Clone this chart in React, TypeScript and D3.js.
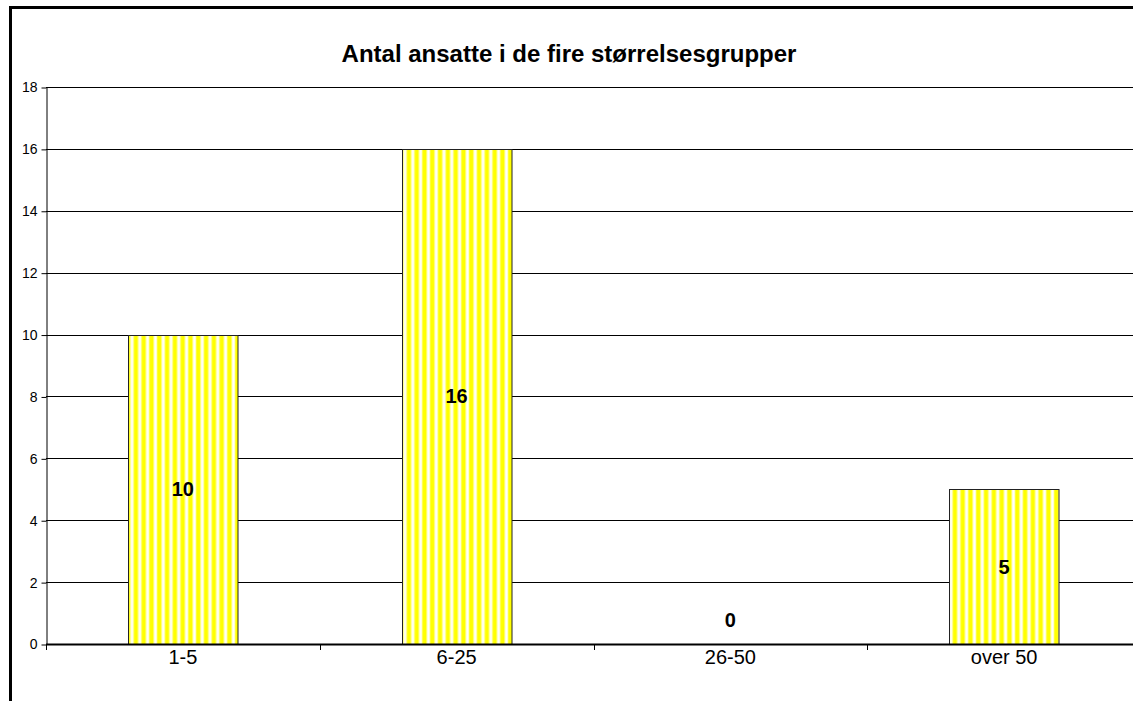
import React, { useEffect, useRef } from "react";
import { select, scaleBand, scaleLinear, axisLeft, range } from "d3";

// chart data
const categories = ["1-5", "6-25", "26-50", "over 50"];
const values = [10, 16, 0, 5];
const yTicks = range(0, 20, 2);
const title = "Antal ansatte i de fire størrelsesgrupper";

const W = 1133;
const H = 701;
const FONT = "Liberation Sans, Arial, sans-serif";

function App() {
  const svgRef = useRef<SVGSVGElement>(null);

  useEffect(() => {
    const svg = select(svgRef.current);
    svg.selectAll("*").remove();

    const left = 46;
    const top = 87;
    const bottom = 644;
    const right = 1141;

    // stripe pattern for the bars
    const pat = svg
      .append("defs")
      .append("pattern")
      .attr("id", "stripes")
      .attr("patternUnits", "userSpaceOnUse")
      .attr("width", 7.8)
      .attr("height", 10);
    pat.append("rect").attr("width", 7.8).attr("height", 10).attr("fill", "#ffffff");
    pat.append("rect").attr("x", 1).attr("width", 4.6).attr("height", 10).attr("fill", "#ffff00");
    pat.append("rect").attr("x", 0.5).attr("width", 0.8).attr("height", 10).attr("fill", "#ffff99");
    pat.append("rect").attr("x", 5.4).attr("width", 0.8).attr("height", 10).attr("fill", "#ffff99");

    const x = scaleBand<string>()
      .domain(categories)
      .range([left, right])
      .paddingInner(0.6)
      .paddingOuter(0.3);
    const band = scaleBand<string>().domain(categories).range([left, right]);

    const y = scaleLinear().domain([0, 18]).range([bottom, top]);

    // outer frame
    svg
      .append("rect")
      .attr("x", 10.5)
      .attr("y", 7.5)
      .attr("width", W + 20)
      .attr("height", H + 20)
      .attr("fill", "none")
      .attr("stroke", "#000")
      .attr("stroke-width", 3);

    // title
    svg
      .append("text")
      .attr("x", 569)
      .attr("y", 62)
      .attr("text-anchor", "middle")
      .attr("font-family", FONT)
      .attr("font-weight", "bold")
      .attr("font-size", 24)
      .text(title);

    // gridlines
    svg
      .append("g")
      .selectAll("line")
      .data(yTicks.filter((d) => d > 0))
      .join("line")
      .attr("x1", left)
      .attr("x2", right)
      .attr("y1", (d) => Math.round(y(d)) + 0.5)
      .attr("y2", (d) => Math.round(y(d)) + 0.5)
      .attr("stroke", "#000")
      .attr("stroke-width", 1);

    // y axis
    const yAxis = svg
      .append("g")
      .attr("transform", `translate(${left + 0.5},0.5)`)
      .call(axisLeft(y).tickValues(yTicks).tickSize(5).tickPadding(4).tickSizeOuter(0));
    yAxis.select(".domain").attr("stroke", "#000");
    yAxis
      .selectAll("text")
      .attr("font-family", FONT)
      .attr("font-size", 14)
      .attr("fill", "#000");

    // bars
    svg
      .append("g")
      .selectAll("rect")
      .data(values)
      .join("rect")
      .attr("x", (d, i) => Math.round(x(categories[i])!) + 0.5)
      .attr("y", (d) => Math.round(y(d)) + 0.5)
      .attr("width", x.bandwidth())
      .attr("height", (d) => bottom - Math.round(y(d)))
      .attr("fill", "url(#stripes)")
      .attr("stroke", (d) => (d > 0 ? "#222" : "none"))
      .attr("stroke-width", 1);

    // x axis line and ticks
    svg
      .append("line")
      .attr("x1", left)
      .attr("x2", right)
      .attr("y1", bottom + 0.5)
      .attr("y2", bottom + 0.5)
      .attr("stroke", "#000")
      .attr("stroke-width", 2);
    svg
      .append("g")
      .selectAll("line")
      .data(categories)
      .join("line")
      .attr("x1", (c) => Math.round(band(c)!) + 0.5)
      .attr("x2", (c) => Math.round(band(c)!) + 0.5)
      .attr("y1", bottom)
      .attr("y2", bottom + 6)
      .attr("stroke", "#000");

    // category labels
    svg
      .append("g")
      .selectAll("text")
      .data(categories)
      .join("text")
      .attr("x", (c) => band(c)! + band.bandwidth() / 2)
      .attr("y", 664)
      .attr("text-anchor", "middle")
      .attr("font-family", FONT)
      .attr("font-size", 20)
      .text((c) => c);

    // value labels
    svg
      .append("g")
      .selectAll("text")
      .data(values)
      .join("text")
      .attr("x", (d, i) => x(categories[i])! + x.bandwidth() / 2)
      .attr("y", (d) => Math.min(y(d / 2), bottom - 24) + 7)
      .attr("text-anchor", "middle")
      .attr("font-family", FONT)
      .attr("font-weight", "bold")
      .attr("font-size", 20)
      .text((d) => d);
  }, []);

  return (
    <svg
      ref={svgRef}
      width={W}
      height={H}
      style={{ position: "absolute", left: 0, top: 0, background: "#fff" }}
    />
  );
}

export default App;
